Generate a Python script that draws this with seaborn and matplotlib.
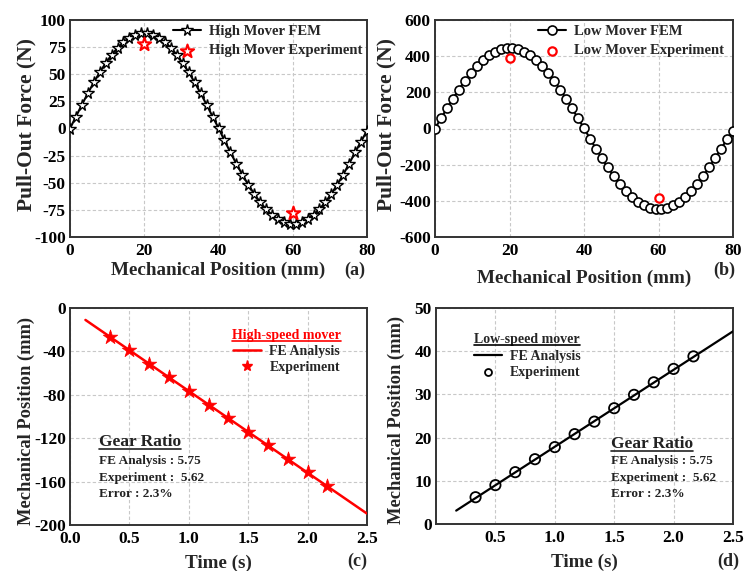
import numpy as np
import pandas as pd
import matplotlib
matplotlib.use("Agg")
import matplotlib.pyplot as plt
import seaborn as sns
from matplotlib.lines import Line2D

# ---------------- data ----------------
pos_mm = [0, 1.6, 3.2, 4.8, 6.4, 8.0, 9.6, 11.2, 12.8, 14.4, 16.0, 17.6, 19.2, 20.8, 22.4, 24.0,
          25.6, 27.2, 28.8, 30.4, 32.0, 33.6, 35.2, 36.8, 38.4, 40.0, 41.6, 43.2, 44.8, 46.4, 48.0,
          49.6, 51.2, 52.8, 54.4, 56.0, 57.6, 59.2, 60.8, 62.4, 64.0, 65.6, 67.2, 68.8, 70.4, 72.0,
          73.6, 75.2, 76.8, 78.4, 80.0]
high_fem = [0, 11.0, 21.9, 32.4, 42.4, 51.7, 60.2, 67.8, 74.3, 79.6, 83.7, 86.4, 87.8, 87.8, 86.4,
            83.7, 79.6, 74.3, 67.8, 60.2, 51.7, 42.4, 32.4, 21.9, 11.0, 0.5, -11.0, -21.9, -32.4,
            -42.4, -51.7, -60.2, -67.8, -74.3, -79.6, -83.7, -86.4, -87.8, -87.8, -86.4, -83.7,
            -79.6, -74.3, -67.8, -60.2, -51.7, -42.4, -32.4, -21.9, -12.0, -2.0]
low_fem = [0, 56.0, 111.2, 164.5, 215.4, 262.7, 306.0, 344.4, 377.4, 404.4, 425.1, 439.1, 446.1,
           446.1, 439.1, 425.1, 404.4, 377.4, 344.4, 306.0, 262.7, 215.4, 164.5, 111.2, 56.0, 2.0,
           -56.0, -111.2, -164.5, -215.4, -262.7, -306.0, -344.4, -377.4, -404.4, -425.1, -439.1,
           -446.1, -446.1, -439.1, -425.1, -404.4, -377.4, -344.4, -306.0, -262.7, -215.4, -164.5,
           -111.2, -60.0, -12.0]
exp_pos = [20, 60]
high_exp = [78, -78]
low_exp = [390, -385]

t_line_high = [0.13, 2.5]
y_line_high = [-11, -189.5]
t_exp = [0.333, 0.5, 0.667, 0.833, 1.0, 1.167, 1.333, 1.5, 1.667, 1.833, 2.0, 2.167]
high_exp_pos = [-26.5, -39.0, -51.5, -64.0, -76.5, -89.0, -101.5, -114.0, -126.5, -139.0, -151.5, -164.5]

t_line_low = [0.17, 2.5]
y_line_low = [3.1, 44.6]
low_exp_pos = [6.2, 9.0, 12.0, 15.0, 17.8, 20.8, 23.7, 26.8, 29.9, 32.8, 35.9, 38.8]

# ---------------- style ----------------
sns.set_theme(style="white")
plt.rcParams["font.family"] = ["Liberation Serif", "DejaVu Serif"]
plt.rcParams["font.weight"] = "bold"
plt.rcParams["axes.labelweight"] = "bold"
plt.rcParams["axes.unicode_minus"] = False

fig = plt.figure(figsize=(7.45, 5.71), dpi=100)
W, H = 745, 571
def rect(l, t, r, b):
    return [l / W, 1 - b / H, (r - l) / W, (b - t) / H]

ax_a = fig.add_axes(rect(70, 20, 367, 237))
ax_b = fig.add_axes(rect(435, 20, 733, 237))
ax_c = fig.add_axes(rect(70, 308, 367, 525))
ax_d = fig.add_axes(rect(436, 308, 733, 524))

tick_fs = 12.5
lab_fs = 13.8
force_fs = 15.5
mpos_fs = 13.3
spine_col = "#333333"

def style_axes(ax):
    for s in ax.spines.values():
        s.set_color(spine_col)
        s.set_linewidth(1.4)
    ax.tick_params(axis="both", length=0, pad=3, labelsize=tick_fs, colors="black")
    ax.tick_params(axis="x", pad=4)
    for lab in ax.get_xticklabels() + ax.get_yticklabels():
        lab.set_fontweight("bold")
    ax.grid(True, color="#c8c8c8", linestyle=(0, (3, 2)), linewidth=0.8)
    ax.set_axisbelow(True)

# ---------------- (a) ----------------
df_a = pd.DataFrame({"x": pos_mm, "y": high_fem})
sns.lineplot(data=df_a, x="x", y="y", ax=ax_a, color="black", linewidth=1.5,
             marker="*", markersize=8.5, markerfacecolor="white", markeredgecolor="black",
             markeredgewidth=1.0, label="High Mover FEM", zorder=3)
sns.scatterplot(x=exp_pos, y=high_exp, ax=ax_a, marker="*", s=100, facecolor="white",
                edgecolor="red", linewidth=1.5, label="High Mover Experiment", zorder=4)
ax_a.set_xlim(0, 80)
ax_a.set_ylim(-100, 100)
ax_a.set_xticks([0, 20, 40, 60, 80])
ax_a.set_yticks([-100, -75, -50, -25, 0, 25, 50, 75, 100])
ax_a.set_xlabel("Mechanical Position (mm)", fontsize=lab_fs, labelpad=2)
ax_a.set_ylabel("Pull-Out Force (N)", fontsize=force_fs)
ax_a.yaxis.set_label_coords(-0.112, 0.52)
leg_a = ax_a.legend(loc="upper right", bbox_to_anchor=(1.015, 1.02), frameon=False,
                    prop={"size": 10.5, "weight": "bold"}, handlelength=1.9,
                    handletextpad=0.6, labelspacing=0.45, borderaxespad=0.2)
style_axes(ax_a)

# ---------------- (b) ----------------
df_b = pd.DataFrame({"x": pos_mm, "y": low_fem})
sns.lineplot(data=df_b, x="x", y="y", ax=ax_b, color="black", linewidth=1.5,
             marker="o", markersize=6.5, markerfacecolor="white", markeredgecolor="black",
             markeredgewidth=1.2, label="Low Mover FEM", zorder=3)
sns.scatterplot(x=exp_pos, y=low_exp, ax=ax_b, marker="o", s=36, facecolor="white",
                edgecolor="red", linewidth=1.6, label="Low Mover Experiment", zorder=4)
ax_b.set_xlim(0, 80)
ax_b.set_ylim(-600, 600)
ax_b.set_xticks([0, 20, 40, 60, 80])
ax_b.set_yticks([-600, -400, -200, 0, 200, 400, 600])
ax_b.set_xlabel("Mechanical Position (mm)", fontsize=lab_fs, labelpad=8)
ax_b.set_ylabel("Pull-Out Force (N)", fontsize=force_fs)
ax_b.yaxis.set_label_coords(-0.128, 0.52)
leg_b = ax_b.legend(loc="upper right", bbox_to_anchor=(1.0, 1.02), frameon=False,
                    prop={"size": 10.5, "weight": "bold"}, handlelength=1.9,
                    handletextpad=0.6, labelspacing=0.45, borderaxespad=0.2)
style_axes(ax_b)

# ---------------- (c) ----------------
sns.lineplot(x=t_line_high, y=y_line_high, ax=ax_c, color="red", linewidth=1.8, zorder=3)
sns.scatterplot(x=t_exp, y=high_exp_pos, ax=ax_c, marker="*", s=120, color="red",
                edgecolor="red", linewidth=0.5, zorder=4)
ax_c.set_xlim(0, 2.5)
ax_c.set_ylim(-200, 0)
ax_c.set_xticks([0.0, 0.5, 1.0, 1.5, 2.0, 2.5])
ax_c.set_xticklabels(["0.0", "0.5", "1.0", "1.5", "2.0", "2.5"])
ax_c.set_yticks([-200, -160, -120, -80, -40, 0])
ax_c.set_xlabel("Time (s)", fontsize=lab_fs, labelpad=6)
ax_c.set_ylabel("Mechanical Position (mm)", fontsize=mpos_fs)
ax_c.yaxis.set_label_coords(-0.117, 0.48)
h_c = [Line2D([], [], color="red", lw=1.8),
       Line2D([], [], color="red", marker="*", ls="none", ms=8)]
leg_c = ax_c.legend(h_c, ["FE Analysis", "Experiment"], title="High-speed mover",
                    loc="upper right", bbox_to_anchor=(0.955, 0.96), frameon=False,
                    prop={"size": 10, "weight": "bold"}, handlelength=2.0,
                    handletextpad=0.6, labelspacing=0.2)
leg_c.get_title().set_color("red")
leg_c.get_title().set_fontsize(10)
leg_c.get_title().set_fontweight("bold")
style_axes(ax_c)
for i, (txt, fs) in enumerate([("Gear Ratio", 12.5), ("FE Analysis : 5.75", 9.5),
                               ("Experiment :  5.62", 9.5), ("Error : 2.3%", 9.5)]):
    yy = [0.382, 0.295, 0.217, 0.143][i]
    t = ax_c.text(0.098, yy, txt, transform=ax_c.transAxes, fontsize=fs,
                  fontweight="bold", color="#222222", va="center", ha="left")
    if i == 0:
        gr_c = t

# ---------------- (d) ----------------
sns.lineplot(x=t_line_low, y=y_line_low, ax=ax_d, color="black", linewidth=1.6, zorder=3)
sns.scatterplot(x=t_exp, y=low_exp_pos, ax=ax_d, marker="o", s=55, facecolor="none",
                edgecolor="black", linewidth=1.3, zorder=4)
ax_d.set_xlim(0, 2.5)
ax_d.set_ylim(0, 50)
ax_d.set_xticks([0.5, 1.0, 1.5, 2.0, 2.5])
ax_d.set_xticklabels(["0.5", "1.0", "1.5", "2.0", "2.5"])
ax_d.set_yticks([0, 10, 20, 30, 40, 50])
ax_d.set_xlabel("Time (s)", fontsize=lab_fs, labelpad=6)
ax_d.set_ylabel("Mechanical Position (mm)", fontsize=mpos_fs)
ax_d.yaxis.set_label_coords(-0.104, 0.48)
h_d = [Line2D([], [], color="black", lw=1.6),
       Line2D([], [], color="black", marker="o", ls="none", ms=5, mfc="white", mew=1.3)]
leg_d = ax_d.legend(h_d, ["FE Analysis", "Experiment"], title="Low-speed mover",
                    loc="upper left", bbox_to_anchor=(0.085, 0.94), frameon=False,
                    prop={"size": 10, "weight": "bold"}, handlelength=2.0,
                    handletextpad=0.6, labelspacing=0.25)
leg_d.get_title().set_fontsize(10)
leg_d.get_title().set_fontweight("bold")
style_axes(ax_d)
for i, (txt, fs) in enumerate([("Gear Ratio", 12.5), ("FE Analysis : 5.75", 9.5),
                               ("Experiment :  5.62", 9.5), ("Error : 2.3%", 9.5)]):
    yy = [0.369, 0.292, 0.214, 0.1375][i]
    t = ax_d.text(0.588, yy, txt, transform=ax_d.transAxes, fontsize=fs,
                  fontweight="bold", color="#222222", va="center", ha="left")
    if i == 0:
        gr_d = t

# panel labels
for lbl, x, y in [("(a)", 355, 270), ("(b)", 724, 270), ("(c)", 357, 561), ("(d)", 728, 561)]:
    fig.text(x / W, 1 - y / H, lbl, fontsize=13, fontweight="bold", ha="center", va="center")

# underline helper
fig.canvas.draw()
renderer = fig.canvas.get_renderer()
def underline(txt, color):
    bb = txt.get_window_extent(renderer)
    y = (bb.y0 + 1.5) / fig.bbox.height
    fig.add_artist(Line2D([bb.x0 / fig.bbox.width, bb.x1 / fig.bbox.width], [y, y],
                          transform=fig.transFigure, color=color, lw=1.2))
underline(leg_c.get_title(), "red")
underline(leg_d.get_title(), "black")
underline(gr_c, "#222222")
underline(gr_d, "#222222")

fig.savefig("out.png", dpi=100)
